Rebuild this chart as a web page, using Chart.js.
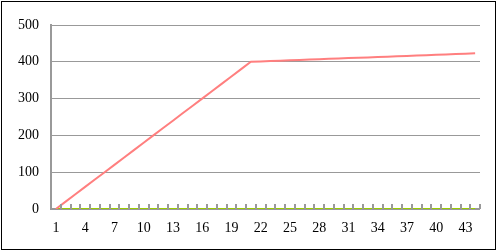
<!DOCTYPE html>
<html>
<head>
<meta charset="utf-8">
<script src="https://cdn.jsdelivr.net/npm/chart.js@4.4.0/dist/chart.umd.min.js"></script>
<style>
  html, body { margin: 0; padding: 0; background: #fff; }
  #wrap { position: relative; width: 498px; height: 252px; }
</style>
</head>
<body>
<div id="wrap"><canvas id="chart" width="498" height="252"></canvas></div>
<script>
// categories 1..44
const labels = [
  "1", "2", "3", "4", "5", "6", "7", "8", "9", "10", "11",
  "12", "13", "14", "15", "16", "17", "18", "19", "20", "21", "22",
  "23", "24", "25", "26", "27", "28", "29", "30", "31", "32", "33",
  "34", "35", "36", "37", "38", "39", "40", "41", "42", "43", "44"
];

// red series: climbs to 400 by point 21, then creeps up
const redValues = [
  0, 20, 40, 60, 80, 100, 120, 140, 160, 180, 200,
  220, 240, 260, 280, 300, 320, 340, 360, 380, 400, 401,
  402, 403, 404, 405, 406, 407, 408, 409, 410, 411, 412,
  413, 414, 415, 416, 417, 418, 419, 420, 421, 422, 423
];

// green series: flat on zero
const greenValues = [
  0, 0, 0, 0, 0, 0, 0, 0, 0, 0, 0,
  0, 0, 0, 0, 0, 0, 0, 0, 0, 0, 0,
  0, 0, 0, 0, 0, 0, 0, 0, 0, 0, 0,
  0, 0, 0, 0, 0, 0, 0, 0, 0, 0, 0
];

const yTicks = [0, 100, 200, 300, 400, 500];

const FONT = { family: "'Liberation Serif', serif", size: 14 };

// outer frame + little upward tick marks between categories
Chart.register({
  id: "frameAndTicks",
  afterDraw: function (chart) {
    const ctx = chart.ctx;
    const x = chart.scales.x;
    const area = chart.chartArea;
    ctx.save();
    ctx.strokeStyle = "#999999";
    ctx.lineWidth = 2;
    const step = x.getPixelForValue(1) - x.getPixelForValue(0);
    for (let i = 0; i < labels.length; i++) {
      const px = Math.round(x.getPixelForValue(i) + step / 2);
      ctx.beginPath();
      ctx.moveTo(px, area.bottom);
      ctx.lineTo(px, area.bottom - 5);
      ctx.stroke();
    }
    ctx.strokeStyle = "#000000";
    ctx.lineWidth = 1;
    ctx.strokeRect(1.5, 1.5, 494, 248);
    ctx.restore();
  },
  beforeDatasetsDraw: function (chart) {
    // x axis line under the series
    const ctx = chart.ctx;
    const area = chart.chartArea;
    ctx.save();
    ctx.strokeStyle = "#999999";
    ctx.lineWidth = 2;
    ctx.beginPath();
    ctx.moveTo(area.left, area.bottom);
    ctx.lineTo(area.right, area.bottom);
    ctx.stroke();
    ctx.restore();
  },
});

new Chart(document.getElementById("chart").getContext("2d"), {
  type: "line",
  data: {
    labels: labels,
    datasets: [
      {
        label: "Series 1",
        data: redValues,
        borderColor: "#ff7f7f",
        borderWidth: 2,
        pointRadius: 0,
        fill: false,
        tension: 0,
        order: 1,
      },
      {
        label: "Series 2",
        data: greenValues,
        borderColor: "#99cc00",
        borderWidth: 2,
        pointRadius: 0,
        fill: false,
        tension: 0,
        order: 2,
      },
    ],
  },
  options: {
    responsive: false,
    animation: false,
    events: [],
    layout: { padding: { left: 0, right: 18, top: 25, bottom: 0 } },
    scales: {
      x: {
        offset: true,
        grid: { display: false, drawTicks: false },
        border: { display: false },
        ticks: {
          autoSkip: false,
          maxRotation: 0,
          padding: 11,
          color: "#000",
          font: FONT,
          callback: function (value, index) {
            return index % 3 === 0 ? labels[index] : "";
          },
        },
        afterFit: function (scale) { scale.height = 43; },
      },
      y: {
        min: 0,
        max: 500,
        afterBuildTicks: function (scale) {
          scale.ticks = yTicks.map((v) => ({ value: v }));
        },
        grid: { color: "#999999", lineWidth: 1, drawTicks: false },
        border: { color: "#999999", width: 2 },
        ticks: { padding: 12, color: "#000", font: FONT },
        afterFit: function (scale) { scale.width = 51; },
      },
    },
    plugins: {
      legend: { display: false },
      tooltip: { enabled: false },
    },
  },
});
</script>
</body>
</html>
